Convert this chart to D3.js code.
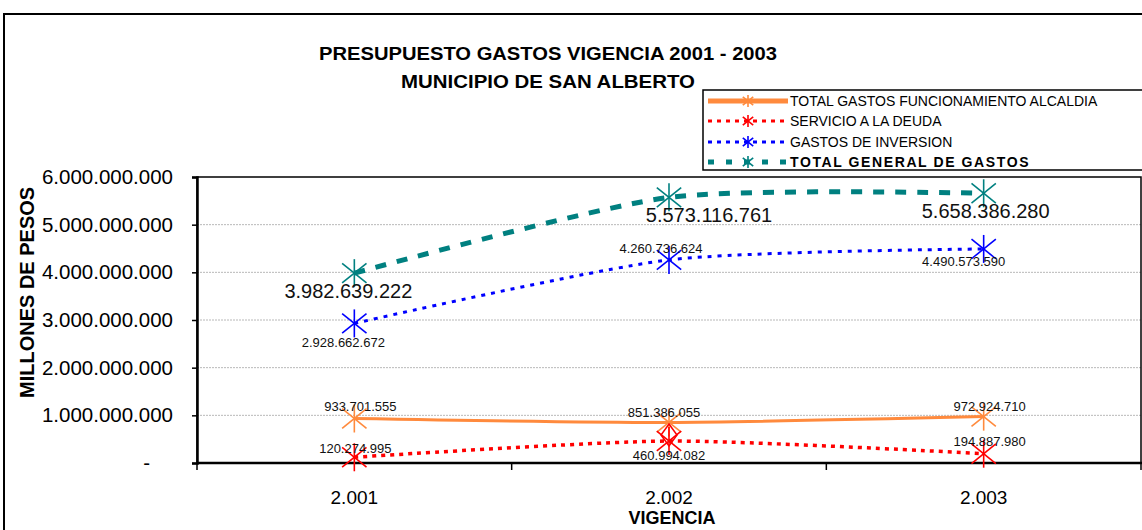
<!DOCTYPE html>
<html>
<head>
<meta charset="utf-8">
<script src="https://cdn.jsdelivr.net/npm/d3@7"></script>
<style>
  body { margin: 0; background: #fff; }
  svg { font-family: "Liberation Sans", Arial, sans-serif; }
</style>
</head>
<body>
<svg id="chart" width="1142" height="530"></svg>
<script>
// data
var years = ["2.001", "2.002", "2.003"];
var funcionamiento = [933701555, 851386055, 972924710];
var deuda = [120274995, 460994082, 194887980];
var inversion = [2928662672, 4260736624, 4490573590];
var totalGeneral = [3982639222, 5573116761, 5658386280];
var yTicks = [0, 1e9, 2e9, 3e9, 4e9, 5e9, 6e9];

// format with dots as thousand separators
var fmt = d3.formatLocale({decimal: ",", thousands: ".", grouping: [3], currency: ["$", ""]}).format(",d");

var svg = d3.select("#chart");

var plot = {left: 197, right: 1141, top: 177, bottom: 463};

var x = d3.scaleBand().domain(years).range([plot.left, plot.right]);
var y = d3.scaleLinear().domain([0, 6e9]).range([plot.bottom, plot.top]);

// outer chart frame
svg.append("rect")
  .attr("x", 4).attr("y", 14)
  .attr("width", 1160).attr("height", 540)
  .attr("fill", "none").attr("stroke", "#000").attr("stroke-width", 2);

// title
svg.append("text").attr("x", 548).attr("y", 60)
  .attr("text-anchor", "middle").attr("font-weight", "bold").attr("font-size", 18)
  .attr("textLength", 458).attr("lengthAdjust", "spacingAndGlyphs")
  .text("PRESUPUESTO GASTOS VIGENCIA 2001 - 2003");
svg.append("text").attr("x", 548).attr("y", 88)
  .attr("text-anchor", "middle").attr("font-weight", "bold").attr("font-size", 18)
  .attr("textLength", 294).attr("lengthAdjust", "spacingAndGlyphs")
  .text("MUNICIPIO DE SAN ALBERTO");

// gridlines
svg.append("g").selectAll("line")
  .data(yTicks.slice(1, -1))
  .join("line")
  .attr("x1", plot.left).attr("x2", plot.right)
  .attr("y1", function(d) { return y(d); }).attr("y2", function(d) { return y(d); })
  .attr("stroke", "#b8b8b8").attr("stroke-width", 1).attr("stroke-dasharray", "2,1");

// plot frame
svg.append("rect")
  .attr("x", plot.left).attr("y", plot.top)
  .attr("width", plot.right - plot.left).attr("height", plot.bottom - plot.top)
  .attr("fill", "none").attr("stroke", "#000").attr("stroke-width", 1.5);

// y axis
var yAxis = svg.append("g").attr("transform", "translate(" + plot.left + ",0)")
  .call(d3.axisLeft(y).tickValues(yTicks).tickSize(5).tickPadding(19)
    .tickFormat(function(d) { return d === 0 ? "-" : fmt(d); }));
yAxis.attr("font-family", null);
yAxis.select(".domain").attr("stroke-width", 2.5);
yAxis.selectAll("line").attr("stroke-width", 1.5);
yAxis.selectAll("text").attr("font-size", 20.5).attr("fill", "#000");
yAxis.selectAll(".tick").filter(function(d) { return d === 0; }).select("text").attr("dx", -23);

// x axis (ticks between categories)
var xAxis = svg.append("g").attr("transform", "translate(0," + plot.bottom + ")");
xAxis.append("line").attr("x1", plot.left).attr("x2", plot.right + 1)
  .attr("stroke", "#000").attr("stroke-width", 2.5);
xAxis.selectAll(".sep")
  .data(years.concat([null]))
  .join("line")
  .attr("x1", function(d, i) { return i < years.length ? x(years[i]) : plot.right; })
  .attr("x2", function(d, i) { return i < years.length ? x(years[i]) : plot.right; })
  .attr("y1", 0).attr("y2", 7)
  .attr("stroke", "#000").attr("stroke-width", 1.5);
xAxis.selectAll(".lbl")
  .data(years)
  .join("text")
  .attr("x", function(d) { return x(d) + x.bandwidth() / 2; })
  .attr("y", 41)
  .attr("text-anchor", "middle").attr("font-size", 19)
  .text(function(d) { return d; });

// axis titles
svg.append("text").attr("x", 672).attr("y", 524)
  .attr("text-anchor", "middle").attr("font-weight", "bold").attr("font-size", 18)
  .text("VIGENCIA");

svg.append("clipPath").attr("id", "ytclip")
  .append("rect").attr("x", 0).attr("y", 180).attr("width", 60).attr("height", 300);
svg.append("g")
  .attr("clip-path", "url(#ytclip)")
  .append("text")
  .attr("transform", "translate(34,398) rotate(-90)")
  .attr("font-weight", "bold").attr("font-size", 20)
  .text("MILLONES DE PESOS");

// series
var series = [
  {name: "TOTAL GASTOS FUNCIONAMIENTO ALCALDIA", values: funcionamiento, color: "#ff8a3d", width: 3, dash: null, legWidth: 5},
  {name: "SERVICIO A LA DEUDA", values: deuda, color: "#ff0000", width: 3.5, dash: "4,5", legWidth: 3},
  {name: "GASTOS DE INVERSION", values: inversion, color: "#0000ff", width: 3, dash: "4,6", legWidth: 3},
  {name: "TOTAL GENERAL DE GASTOS", values: totalGeneral, color: "#008080", width: 5, dash: "11,11", legWidth: 5, bold: true}
];

var line = d3.line()
  .x(function(d, i) { return x(years[i]) + x.bandwidth() / 2; })
  .y(function(d) { return y(d); })
  .curve(d3.curveCardinal.tension(0.3));

function star(g, cx, cy, r, color) {
  var m = g.append("g").attr("transform", "translate(" + cx + "," + cy + ")")
    .attr("stroke", color).attr("stroke-width", 1.6);
  m.append("line").attr("x1", 0).attr("x2", 0).attr("y1", -r).attr("y2", r);
  m.append("line").attr("x1", -r * 0.87).attr("x2", r * 0.87).attr("y1", -r * 0.7).attr("y2", r * 0.7);
  m.append("line").attr("x1", -r * 0.87).attr("x2", r * 0.87).attr("y1", r * 0.7).attr("y2", -r * 0.7);
}

series.slice().reverse().forEach(function(s) {
  svg.append("path")
    .datum(s.values)
    .attr("d", line)
    .attr("fill", "none")
    .attr("stroke", s.color)
    .attr("stroke-width", s.width)
    .attr("stroke-dasharray", s.dash);
});

series.forEach(function(s) {
  s.values.forEach(function(v, i) {
    star(svg, x(years[i]) + x.bandwidth() / 2, y(v), 14, s.color);
  });
});

// odd diamond at 2002 deuda point
var dx = x(years[1]) + x.bandwidth() / 2, dy = y(deuda[1]);
svg.append("path")
  .attr("d", "M" + dx + "," + (dy - 17) + "L" + (dx + 8) + "," + (dy - 6) + "L" + dx + "," + (dy + 5) + "L" + (dx - 8) + "," + (dy - 6) + "Z")
  .attr("fill", "none").attr("stroke", "#ff0000").attr("stroke-width", 1.5);

// data labels
var labels = [
  {v: funcionamiento, dx: [6, -5, 6], dy: [-7, -5, -6], size: 13},
  {v: deuda, dx: [1, 0, 6], dy: [-4, 19, -8], size: 13},
  {v: inversion, dx: [-11, -8, -20], dy: [24, -7, 17], size: 13},
  {v: totalGeneral, dx: [-6, 40, 2], dy: [25, 25, 25], size: 20}
];
labels.forEach(function(l) {
  svg.append("g").selectAll("text")
    .data(l.v)
    .join("text")
    .attr("x", function(d, i) { return x(years[i]) + x.bandwidth() / 2 + l.dx[i]; })
    .attr("y", function(d, i) { return y(d) + l.dy[i]; })
    .attr("text-anchor", "middle")
    .attr("font-size", l.size)
    .attr("fill", "#111")
    .text(function(d) { return fmt(d); });
});

// legend
var leg = svg.append("g");
leg.append("rect").attr("x", 703).attr("y", 90).attr("width", 460).attr("height", 80)
  .attr("fill", "#fff").attr("stroke", "#000").attr("stroke-width", 1.5);
var legY = [101, 121, 142, 162];
series.forEach(function(s, i) {
  var g = leg.append("g").attr("transform", "translate(0," + legY[i] + ")");
  g.append("line").attr("x1", 708).attr("x2", 788).attr("y1", 0).attr("y2", 0)
    .attr("stroke", s.color).attr("stroke-width", s.legWidth)
    .attr("stroke-dasharray", s.dash ? (s.bold ? "6,12" : "4,5") : null);
  star(g, 748, 0, 6, s.color);
  g.append("text").attr("x", 790).attr("y", 5)
    .attr("font-size", 14)
    .attr("font-weight", s.bold ? "bold" : null)
    .attr("letter-spacing", s.bold ? 1.6 : null)
    .text(s.name);
});
</script>
</body>
</html>
